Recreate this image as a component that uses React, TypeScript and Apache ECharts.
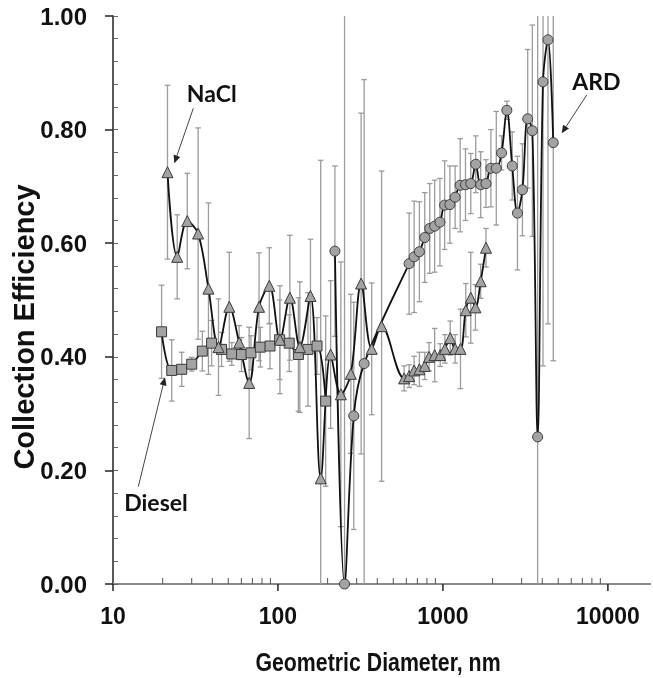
import React, { useEffect, useRef } from "react";
import * as echarts from "echarts";

// ---- Data ----
const dieselD = [19.7, 22.7, 26.1, 30.0, 34.8, 39.6, 45.5, 52.5, 60.1, 68.6, 78.2, 89.5, 102.4, 117, 133, 152, 172.5, 194.6];
const dieselV = [0.444, 0.376, 0.378, 0.387, 0.410, 0.424, 0.413, 0.405, 0.404, 0.407, 0.417, 0.419, 0.430, 0.424, 0.404, 0.413, 0.419, 0.322];
const dieselE = [0.082, 0.054, 0.03, 0.012, 0.035, 0.04, 0.03, 0.02, 0.03, 0.03, 0.035, 0.04, 0.07, 0.05, 0.1, 0.1, 0.05, 0.15];

const naclD = [21.4, 24.5, 28.2, 32.8, 37.9, 43.6, 50.7, 58.2, 66.9, 76.8, 88.6, 102.8, 118.1, 135.7, 157.4, 181.6, 208.6, 240.6, 276.5, 319.3, 369.9, 424.9,
  582, 624, 669, 720, 776, 824, 891, 963, 1028, 1107, 1186, 1278, 1376, 1475, 1574, 1694, 1824];
const naclV = [0.725, 0.576, 0.639, 0.617, 0.520, 0.417, 0.488, 0.425, 0.354, 0.488, 0.525, 0.430, 0.504, 0.417, 0.507, 0.186, 0.404, 0.334, 0.370, 0.529, 0.414, 0.454,
  0.362, 0.366, 0.376, 0.378, 0.384, 0.400, 0.403, 0.403, 0.414, 0.433, 0.414, 0.414, 0.482, 0.504, 0.487, 0.533, 0.592];
const naclE = [0.153, 0.074, 0.084, 0.186, 0.151, 0.085, 0.096, 0.03, 0.098, 0.095, 0.067, 0.095, 0.11, 0.115, 0.1, 0.56, 0.13, 0.233, 0.14, 0.3, 0.116, 0.273,
  0.022, 0.02, 0.025, 0.03, 0.024, 0.025, 0.047, 0.02, 0.025, 0.03, 0.025, 0.07, 0.047, 0.08, 0.04, 0.03, 0.034];

const ardD = [221.4, 253.3, 288.1, 333.0, 624, 669, 720, 776, 832, 891, 959, 1024, 1102, 1186, 1272, 1370, 1475, 1581, 1694, 1823, 1954, 2106, 2267, 2440, 2630, 2830, 3033, 3265, 3485, 3751, 4043, 4333, 4664];
const ardV = [0.586, 0.0, 0.296, 0.388, 0.564, 0.576, 0.585, 0.610, 0.626, 0.630, 0.637, 0.667, 0.668, 0.681, 0.702, 0.703, 0.705, 0.739, 0.703, 0.705, 0.732, 0.732, 0.759, 0.834, 0.736, 0.653, 0.694, 0.819, 0.798, 0.259, 0.884, 0.958, 0.777];
const ardE = [0.15, 1.2, 0.2, 0.5, 0.089, 0.098, 0.088, 0.079, 0.079, 0.081, 0.077, 0.078, 0.068, 0.055, 0.082, 0.063, 0.053, 0.05, 0.058, 0.042, 0.068, 0.10, 0.03, 0.016, 0.06, 0.10, 0.081, 0.122, 0.186, 0.8, 0.5, 0.5, 0.384];

const majorTicks = [10, 100, 1000, 10000];
const minorTicks = [20, 30, 40, 50, 60, 70, 80, 90, 200, 300, 400, 500, 600, 700, 800, 900, 2000, 3000, 4000, 5000, 6000, 7000, 8000, 9000];

const X_MIN = 10;
const X_MAX = 18000;

const AXIS_FONT = "'Liberation Sans', Arial, sans-serif";
const LABEL_FONT = "Lato, 'Open Sans', sans-serif";

function arrow(x1: number, y1: number, x2: number, y2: number) {
  const dx = x2 - x1, dy = y2 - y1;
  const len = Math.sqrt(dx * dx + dy * dy);
  const ux = dx / len, uy = dy / len;
  const hl = 8, hw = 3.5;
  const bx = x2 - ux * hl, by = y2 - uy * hl;
  return [
    { type: "line", shape: { x1, y1, x2: bx, y2: by }, style: { stroke: "#444", lineWidth: 1 }, z: 10 },
    {
      type: "polygon",
      shape: { points: [[x2, y2], [bx - uy * hw, by + ux * hw], [bx + uy * hw, by - ux * hw]] },
      style: { fill: "#222" },
      z: 10,
    },
  ];
}

export default function App() {
  const ref = useRef<HTMLDivElement>(null);
  useEffect(() => {
    const chart = echarts.init(ref.current!, null, { renderer: "svg" });

    const errSeries = (d: number[], v: number[], e: number[]) => ({
      type: "custom",
      xAxisIndex: 0,
      yAxisIndex: 0,
      silent: true,
      z: 1,
      data: d.map((x, i) => [x, v[i] - e[i], v[i] + e[i]]),
      encode: { x: 0, y: [1, 2] },
      renderItem: (params: any, api: any) => {
        const x = api.value(0);
        const lo = api.value(1);
        const hi = api.value(2);
        const p1 = api.coord([x, Math.max(lo, 0)]);
        const p2 = api.coord([x, Math.min(hi, 1)]);
        const st = { stroke: "#9c9c9c", lineWidth: 1.3 };
        const cap = 2.8;
        const children: any[] = [
          { type: "line", shape: { x1: p1[0], y1: p1[1], x2: p2[0], y2: p2[1] }, style: st },
        ];
        if (lo >= 0) children.push({ type: "line", shape: { x1: p1[0] - cap, y1: p1[1], x2: p1[0] + cap, y2: p1[1] }, style: st });
        if (hi <= 1) children.push({ type: "line", shape: { x1: p2[0] - cap, y1: p2[1], x2: p2[0] + cap, y2: p2[1] }, style: st });
        return { type: "group", children };
      },
    });

    const tickData = [
      ...majorTicks.map((t) => [t, 0, 1]),
      ...minorTicks.map((t) => [t, 0, 0]),
    ];

    const lineCommon = {
      type: "line",
      xAxisIndex: 0,
      yAxisIndex: 0,
      smooth: 0.35,
      z: 3,
      lineStyle: { color: "#111", width: 1.8 },
      itemStyle: { color: "#a3a3a3", borderColor: "#3a3a3a", borderWidth: 1 },
    };

    chart.setOption({
      animation: false,
      grid: { left: 113, right: 0, top: 16, bottom: 94, containLabel: false },
      xAxis: [
        {
          type: "log",
          logBase: 10,
          min: X_MIN,
          max: X_MAX,
          axisLine: { show: true, lineStyle: { color: "#222", width: 1.5 } },
          axisTick: { show: false },
          minorTick: { show: false },
          splitLine: { show: false },
          axisLabel: {
            margin: 20,
            fontSize: 23,
            fontWeight: "bold",
            fontFamily: AXIS_FONT,
            color: "#111",
            formatter: (v: number) => {
              const r = Math.round(v);
              return majorTicks.indexOf(r) >= 0 ? String(r) : "";
            },
          },
        },
        {
          type: "log",
          logBase: 10,
          min: X_MIN,
          max: X_MAX,
          position: "top",
          axisLine: { show: true, lineStyle: { color: "#8a8a8a", width: 2 } },
          axisTick: { show: false },
          axisLabel: { show: false },
          splitLine: { show: false },
        },
      ],
      yAxis: [
        {
          type: "value",
          min: 0,
          max: 1,
          interval: 0.2,
          position: "left",
          axisLine: { show: true, lineStyle: { color: "#222", width: 1.5 } },
          axisTick: { show: true, inside: false, length: 8, lineStyle: { color: "#222", width: 1.5 } },
          splitLine: { show: false },
          axisLabel: {
            margin: 26,
            fontSize: 24,
            fontWeight: "bold",
            fontFamily: AXIS_FONT,
            color: "#111",
            formatter: (v: number) => v.toFixed(2),
          },
        },
        {
          type: "value",
          min: 0,
          max: 1,
          interval: 0.04,
          position: "left",
          offset: 0,
          axisLine: { show: false },
          axisTick: { show: true, inside: true, length: 5, lineStyle: { color: "#666", width: 1 } },
          axisLabel: { show: false },
          splitLine: { show: false },
        },
      ],
      series: [
        {
          type: "custom",
          xAxisIndex: 0,
          yAxisIndex: 0,
          silent: true,
          z: 5,
          clip: false,
          data: tickData,
          encode: { x: 0, y: 1 },
          renderItem: (params: any, api: any) => {
            const p = api.coord([api.value(0), 0]);
            const major = api.value(2) === 1;
            return {
              type: "line",
              shape: { x1: p[0], y1: p[1], x2: p[0], y2: major ? p[1] + 7 : p[1] - 6 },
              style: { stroke: major ? "#222" : "#555", lineWidth: major ? 1.5 : 1 },
            };
          },
        },
        errSeries(dieselD, dieselV, dieselE),
        errSeries(naclD, naclV, naclE),
        errSeries(ardD, ardV, ardE),
        {
          ...lineCommon,
          name: "Diesel",
          symbol: "rect",
          symbolSize: 10,
          data: dieselD.map((d, i) => [d, dieselV[i]]),
        },
        {
          ...lineCommon,
          name: "NaCl",
          symbol: "triangle",
          symbolSize: 11,
          data: naclD.map((d, i) => [d, naclV[i]]),
        },
        {
          ...lineCommon,
          name: "ARD",
          symbol: "circle",
          symbolSize: 10,
          data: ardD.map((d, i) => [d, ardV[i]]),
        },
      ],
      graphic: [
        {
          type: "text",
          x: 378,
          y: 662,
          scaleX: 0.82,
          z: 10,
          style: { text: "Geometric Diameter, nm", font: `bold 26px ${AXIS_FONT}`, fill: "#111", align: "center", verticalAlign: "middle" },
        },
        {
          type: "text",
          x: 24,
          y: 327,
          rotation: Math.PI / 2,
          z: 10,
          style: { text: "Collection Efficiency", font: `bold 29px ${AXIS_FONT}`, fill: "#111", align: "center", verticalAlign: "middle" },
        },
        { type: "text", x: 211.7, y: 93, z: 10, style: { text: "NaCl", font: `bold 23px ${LABEL_FONT}`, fill: "#111", align: "center", verticalAlign: "middle" } },
        { type: "text", x: 156, y: 502, z: 10, style: { text: "Diesel", font: `bold 23px ${LABEL_FONT}`, fill: "#111", align: "center", verticalAlign: "middle" } },
        { type: "text", x: 596.3, y: 81, z: 10, style: { text: "ARD", font: `bold 23px ${LABEL_FONT}`, fill: "#111", align: "center", verticalAlign: "middle" } },
        ...arrow(193.3, 108.3, 174.3, 163.3),
        ...arrow(138.3, 486.7, 165, 377.3),
        ...arrow(586.7, 95, 561.7, 133.3),
      ],
    });
    return () => chart.dispose();
  }, []);
  return <div ref={ref} style={{ position: "fixed", left: 0, top: 0, width: 653, height: 678 }} />;
}
